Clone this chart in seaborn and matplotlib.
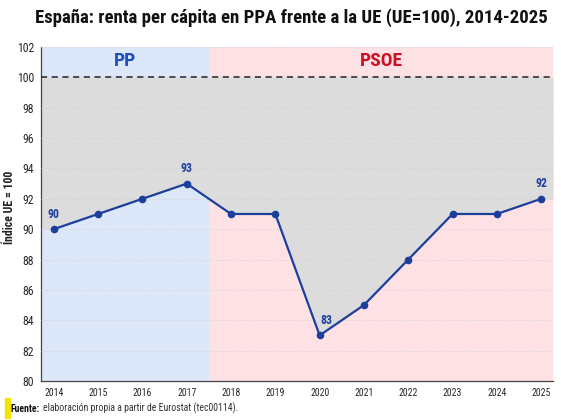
import matplotlib
matplotlib.use("Agg")
import matplotlib.pyplot as plt
import seaborn as sns
import pandas as pd

years = [2014, 2015, 2016, 2017, 2018, 2019, 2020, 2021, 2022, 2023, 2024, 2025]
renta = [90, 91, 92, 93, 91, 91, 83, 85, 88, 91, 91, 92]
labelled_years = [2014, 2017, 2020, 2025]
periods = [("PP", 2013.5, 2017.5, "#dde7fa", "#1f4fbf"),
           ("PSOE", 2017.5, 2025.5, "#fde1e5", "#cc1122")]

sns.set_theme(style="white")
plt.rcParams["font.family"] = ["Roboto Condensed", "Roboto", "DejaVu Sans"]

df = pd.DataFrame({"year": years, "renta": renta})
line_color = "#1c3f9e"
x_lo, x_hi = 2013.71, 2025.27

fig = plt.figure(figsize=(5.61, 4.2), dpi=100)
ax = fig.add_axes([0.073, 0.093, 0.913, 0.795])

# period backgrounds
for name, x0, x1, bg, fg in periods:
    ax.axvspan(x0, x1, color=bg, zorder=0, lw=0)
    ax.text((max(x0, x_lo) + min(x1, x_hi)) / 2, 101.1, name, ha="center", va="center",
            fontsize=14, fontweight="bold", color=fg, zorder=5)

# gap to EU average, carried to the plot edges
gx = [x_lo] + years + [x_hi]
gy = [renta[0]] + renta + [renta[-1]]
ax.fill_between(gx, gy, 100, color="#dcdcdc", zorder=1, lw=0)
ax.axhline(100, color="#222222", ls=(0, (4, 3)), lw=1.1, zorder=3)

sns.lineplot(data=df, x="year", y="renta", ax=ax, color=line_color, lw=1.6,
             marker="o", markersize=5.5, markeredgewidth=0, zorder=4)

for y, v in zip(years, renta):
    if y in labelled_years:
        dx = 0.15 if y == 2020 else 0
        ax.text(y + dx, v + 0.55, str(v), ha="center", va="bottom", fontsize=8.5,
                fontweight="bold", color=line_color, zorder=5)

ax.set_xlim(x_lo, x_hi)
ax.set_ylim(80, 102)
ax.set_xticks(years)
ax.set_yticks(range(80, 103, 2))
ax.tick_params(axis="x", labelsize=7, length=3, width=0.8, color="#444444", pad=2)
ax.tick_params(axis="y", labelsize=8.5, length=3, width=0.8, color="#444444", pad=2)
ax.yaxis.grid(True, color="#cfcfcf", ls=":", lw=0.6, zorder=2)
ax.set_axisbelow(False)
for s in ["top", "right"]:
    ax.spines[s].set_visible(False)
for s in ["left", "bottom"]:
    ax.spines[s].set_color("#444444")
    ax.spines[s].set_linewidth(0.9)
ax.set_xlabel("")
ax.set_ylabel("Índice UE = 100", fontsize=8.5, fontweight="bold", color="#222222",
              va="center")
ax.yaxis.set_label_coords(-0.062, 0.52)

fig.text(0.52, 0.958, "España: renta per cápita en PPA frente a la UE (UE=100), 2014-2025",
         ha="center", va="center", fontsize=13.5, fontweight="bold", color="#111111")

fig.patches.append(plt.Rectangle((0.009, 0.005), 0.009, 0.048, transform=fig.transFigure,
                                 color="#f5e400", zorder=0))
fig.text(0.018, 0.027, "Fuente:", fontsize=7, fontweight="bold", color="#111111", va="center")
fig.text(0.077, 0.027, "elaboración propia a partir de Eurostat (tec00114).", fontsize=7,
         color="#333333", va="center")

fig.savefig("out.png", dpi=100)
